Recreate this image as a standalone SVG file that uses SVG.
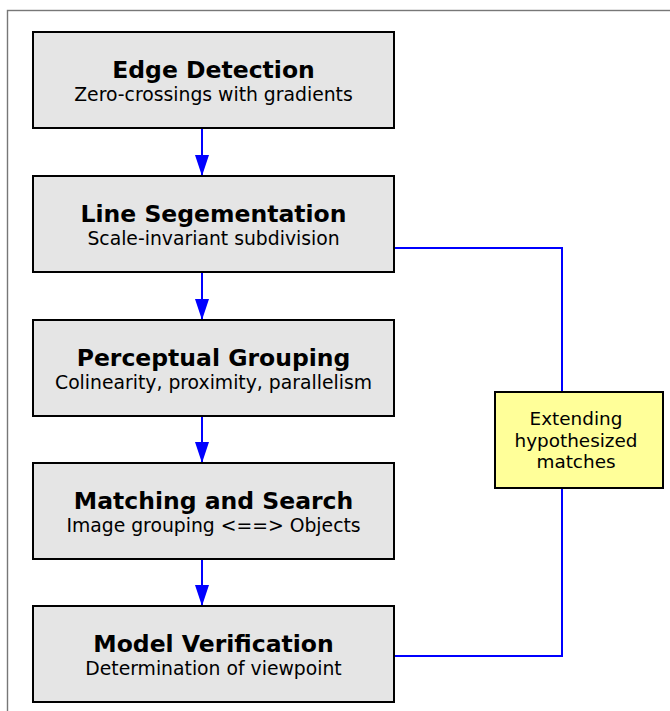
<svg xmlns="http://www.w3.org/2000/svg" width="670" height="711" viewBox="0 0 670 711">
  <style>
    .frame { fill: none; stroke: #777; stroke-width: 1.4; }
    .step { fill: #e5e5e5; stroke: #000; stroke-width: 2; }
    .note { fill: #ffff99; stroke: #000; stroke-width: 2; }
    .title { font-family: "DejaVu Sans", sans-serif; font-weight: bold; font-size: 23.5px; fill: #000; text-anchor: middle; }
    .sub { font-family: "DejaVu Sans", sans-serif; font-size: 18.8px; fill: #000; text-anchor: middle; }
    .noteText { font-family: "DejaVu Sans", sans-serif; font-size: 18.4px; fill: #000; text-anchor: middle; }
    .link { fill: none; stroke: #0000ff; stroke-width: 2; }
  </style>
  <defs>
    <marker id="arrow" markerUnits="userSpaceOnUse" markerWidth="21" markerHeight="14" refX="21" refY="7" orient="auto" viewBox="0 0 21 14">
      <path d="M0,0 L21,7 L0,14 Z" fill="#0000ff"/>
    </marker>
  </defs>

  <rect width="670" height="711" fill="#fff"/>
  <rect class="frame" x="7.5" y="10.5" width="700" height="720"/>

  <g id="connectors">
    <line class="link" x1="202" y1="128" x2="202" y2="176" marker-end="url(#arrow)"/>
    <line class="link" x1="202" y1="272" x2="202" y2="320" marker-end="url(#arrow)"/>
    <line class="link" x1="202" y1="416" x2="202" y2="463" marker-end="url(#arrow)"/>
    <line class="link" x1="202" y1="559" x2="202" y2="606" marker-end="url(#arrow)"/>
    <polyline class="link" points="394,248 562,248 562,392"/>
    <polyline class="link" points="562,488 562,656 394,656"/>
  </g>

  <g id="edge-detection">
    <rect class="step" x="33" y="32" width="361" height="96"/>
    <text class="title" x="213.5" y="77.5">Edge Detection</text>
    <text class="sub" x="213.5" y="100.7">Zero-crossings with gradients</text>
  </g>

  <g id="line-segmentation">
    <rect class="step" x="33" y="176" width="361" height="96"/>
    <text class="title" x="213.5" y="221.5">Line Segementation</text>
    <text class="sub" x="213.5" y="244.7">Scale-invariant subdivision</text>
  </g>

  <g id="perceptual-grouping">
    <rect class="step" x="33" y="320" width="361" height="96"/>
    <text class="title" x="213.5" y="365.5">Perceptual Grouping</text>
    <text class="sub" x="213.5" y="388.7">Colinearity, proximity, parallelism</text>
  </g>

  <g id="matching-search">
    <rect class="step" x="33" y="463" width="361" height="96"/>
    <text class="title" x="213.5" y="508.5">Matching and Search</text>
    <text class="sub" x="213.5" y="531.7">Image grouping &lt;==&gt; Objects</text>
  </g>

  <g id="model-verification">
    <rect class="step" x="33" y="606" width="361" height="96"/>
    <text class="title" x="213.5" y="651.5">Model Verification</text>
    <text class="sub" x="213.5" y="674.7">Determination of viewpoint</text>
  </g>

  <g id="extending-matches">
    <rect class="note" x="495" y="392" width="168" height="96"/>
    <text class="noteText" x="576" y="425">Extending</text>
    <text class="noteText" x="576" y="446.7">hypothesized</text>
    <text class="noteText" x="576" y="468.3">matches</text>
  </g>
</svg>
